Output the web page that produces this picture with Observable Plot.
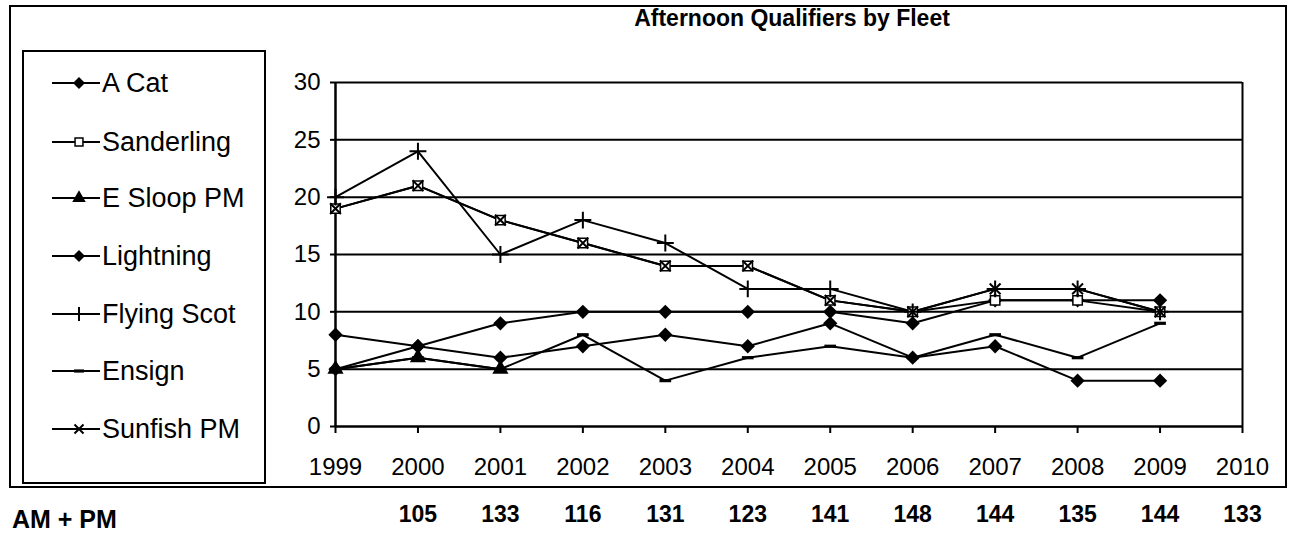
<!DOCTYPE html>
<html>
<head>
<meta charset="utf-8">
<script src="https://cdn.jsdelivr.net/npm/d3@7"></script>
<script src="https://cdn.jsdelivr.net/npm/@observablehq/plot@0.6"></script>
<style>
  body { margin: 0; background: #fff; font-family: Arial, "Liberation Sans", sans-serif; }
  #wrap { position: relative; width: 1290px; height: 542px; overflow: hidden; background: #fff; }
  #chart { position: absolute; left: 0; top: 0; }
  .frame { position: absolute; left: 9px; top: 5px; width: 1274px; height: 479px; border: 2px solid #000; }
  .title { position: absolute; left: 542px; width: 500px; top: 5px; text-align: center; font-weight: bold; font-size: 23px; color: #000; }
  .legend { position: absolute; left: 22px; top: 50px; width: 240px; height: 430px; border: 2px solid #000; background: #fff; }
  .entry { position: absolute; left: 0; height: 30px; display: flex; align-items: center; }
  .entry svg { display: block; }
  .entry span { font-size: 27px; color: #000; margin-left: 0px; white-space: nowrap; }
  .ampm { position: absolute; left: 12px; top: 505px; font-weight: bold; font-size: 25px; color: #000; }
</style>
</head>
<body>
<div id="wrap">
  <div id="chart"></div>
  <div class="frame"></div>
  <div class="title">Afternoon Qualifiers by Fleet</div>
  <div class="legend" id="legend"></div>
  <div class="ampm">AM + PM</div>
</div>
<script>
// ---- data ----
const years = [1999, 2000, 2001, 2002, 2003, 2004, 2005, 2006, 2007, 2008, 2009];
const aCat       = [5, 7, 9, 10, 10, 10, 10, 9, 11, 11, 11];
const sanderling = [19, 21, 18, 16, 14, 14, 11, 10, 11, 11, 10];
const eSloopPM   = [5, 6, 5, null, null, null, null, null, null, null, null];
const lightning  = [8, 7, 6, 7, 8, 7, 9, 6, 7, 4, 4];
const flyingScot = [20, 24, 15, 18, 16, 12, 12, 10, 12, 12, 10];
const ensign     = [5, 6, 5, 8, 4, 6, 7, 6, 8, 6, 9];
const sunfishPM  = [19, 21, 18, 16, 14, 14, 11, 10, 12, 12, 10];

const seriesNames = ["A Cat", "Sanderling", "E Sloop PM", "Lightning", "Flying Scot", "Ensign", "Sunfish PM"];
const seriesValues = [aCat, sanderling, eSloopPM, lightning, flyingScot, ensign, sunfishPM];

const xTickYears = [1999, 2000, 2001, 2002, 2003, 2004, 2005, 2006, 2007, 2008, 2009, 2010];
const yTicks = [0, 5, 10, 15, 20, 25, 30];
const totalYears = [2000, 2001, 2002, 2003, 2004, 2005, 2006, 2007, 2008, 2009, 2010];
const totals = [105, 133, 116, 131, 123, 141, 148, 144, 135, 144, 133];

// ---- build tables ----
const rows = [];
seriesNames.forEach((name, i) => {
  years.forEach((yr, j) => rows.push({series: name, year: yr, value: seriesValues[i][j]}));
});
const totalRows = totalYears.map((yr, i) => ({year: yr, total: totals[i]}));

// custom symbols (Excel-like)
const dashSymbol = {
  draw(ctx, size) {
    const w = Math.sqrt(size) * 0.55;
    ctx.moveTo(-w, -1.6); ctx.lineTo(w, -1.6); ctx.lineTo(w, 1.6); ctx.lineTo(-w, 1.6); ctx.closePath();
  }
};
const wideDiamond = {
  draw(ctx, size) {
    const h = Math.sqrt(size) * 0.62;
    ctx.moveTo(0, -h); ctx.lineTo(h, 0); ctx.lineTo(0, h); ctx.lineTo(-h, 0); ctx.closePath();
  }
};

const markerStyle = {
  "A Cat":       {symbol: wideDiamond, r: 6.5, fill: "black", stroke: "none"},
  "Sanderling":  {symbol: "square2", r: 6, fill: "white", stroke: "black", strokeWidth: 1.5},
  "E Sloop PM":  {symbol: "triangle", r: 6, fill: "black", stroke: "none"},
  "Lightning":   {symbol: wideDiamond, r: 6.5, fill: "black", stroke: "none"},
  "Flying Scot": {symbol: "plus", r: 5.5, fill: "none", stroke: "black", strokeWidth: 2},
  "Ensign":      {symbol: dashSymbol, r: 6, fill: "black", stroke: "none"},
  "Sunfish PM":  {symbol: "times", r: 5, fill: "none", stroke: "black", strokeWidth: 2}
};

const dotMarks = seriesNames.map(name => {
  const s = markerStyle[name];
  return Plot.dot(rows.filter(d => d.series === name && d.value != null), {
    x: "year", y: "value", symbol: s.symbol, r: s.r, fill: s.fill, stroke: s.stroke,
    strokeWidth: s.strokeWidth || 1
  });
});

const plot = Plot.plot({
  width: 1290,
  height: 542,
  marginLeft: 335,
  marginRight: 48,
  marginTop: 82,
  marginBottom: 116,
  style: {background: "transparent", fontFamily: "Arial, 'Liberation Sans', sans-serif", color: "black"},
  x: {domain: [1999, 2010], label: null},
  y: {domain: [0, 30], label: null},
  marks: [
    Plot.ruleY(yTicks.filter(d => d > 0), {stroke: "black", strokeWidth: 2}),
    Plot.ruleY([0], {stroke: "black", strokeWidth: 2.5}),
    Plot.ruleX([1999], {stroke: "black", strokeWidth: 2.5}),
    Plot.ruleX([2010], {stroke: "black", strokeWidth: 2}),
    Plot.axisX({ticks: xTickYears, tickFormat: d => String(d), tickSize: 7, tickPadding: 24, fontSize: 24, strokeWidth: 2, label: null}),
    Plot.axisY({ticks: yTicks, tickFormat: d => String(d), tickSize: 5, tickPadding: 10, fontSize: 24, strokeWidth: 2, label: null}),
    Plot.line(rows, {x: "year", y: "value", z: "series", stroke: "black", strokeWidth: 2}),
    ...dotMarks,
    Plot.text(totalRows, {x: "year", text: d => String(d.total), frameAnchor: "bottom", dy: 95, fontSize: 23, fontWeight: "bold", fill: "black"})
  ]
});
document.getElementById("chart").appendChild(plot);

// ---- legend (HTML) ----
const legend = document.getElementById("legend");
const symMap = {square2: d3.symbolSquare2, triangle: d3.symbolTriangle, plus: d3.symbolPlus, times: d3.symbolTimes};
const rowCenters = [31, 90, 146, 204, 262, 319, 377];
seriesNames.forEach((name, i) => {
  const s = markerStyle[name];
  const type = typeof s.symbol === "string" ? symMap[s.symbol] : s.symbol;
  const size = Math.PI * s.r * s.r * 0.7;
  const path = d3.symbol(type, size)();
  const div = document.createElement("div");
  div.className = "entry";
  div.style.top = (rowCenters[i] - 15) + "px";
  div.innerHTML = `<svg width="78" height="30"><line x1="28" x2="76" y1="15" y2="15" stroke="black" stroke-width="2"/>` +
    `<path d="${path}" transform="translate(55,15)" fill="${s.fill}" stroke="${s.stroke}" stroke-width="${s.strokeWidth || 1}"/></svg>` +
    `<span>${name}</span>`;
  legend.appendChild(div);
});
</script>
</body>
</html>
